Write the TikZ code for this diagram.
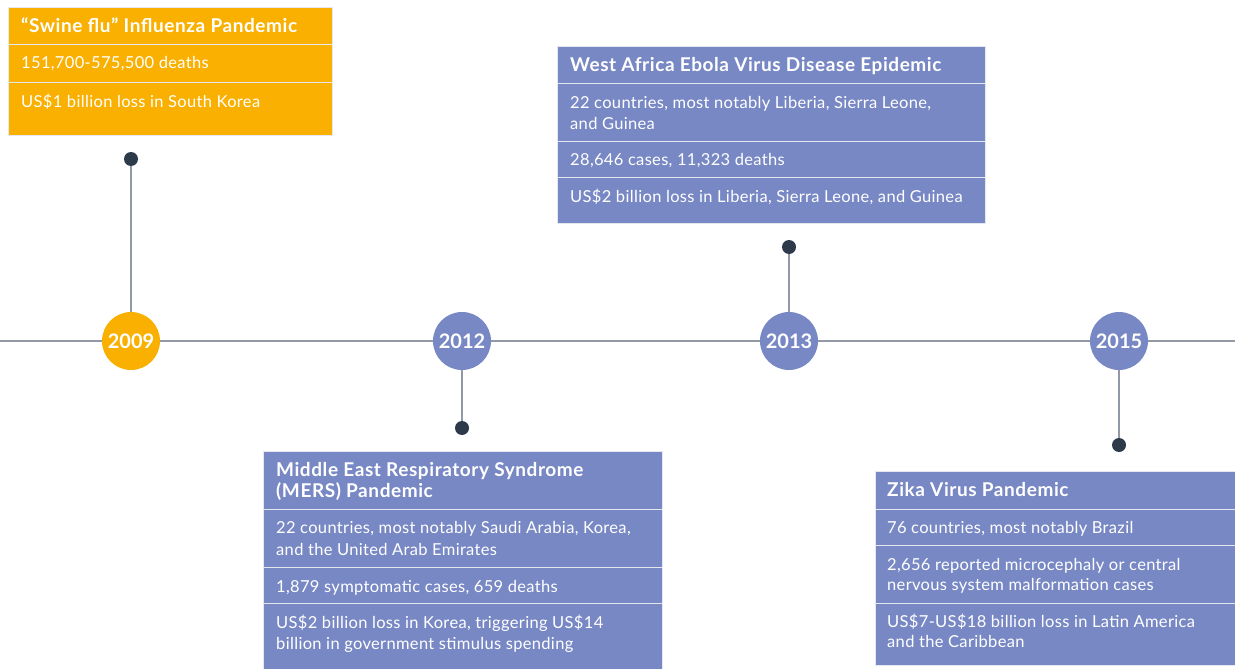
\documentclass[tikz,border=0pt]{standalone}
\usepackage{fontspec}
\setmainfont{Lato}
\newfontfamily\bodyfont{Lato}[LetterSpace=2]
\newfontfamily\titlefont{Lato}[LetterSpace=3]
\definecolor{orangec}{HTML}{F9B000}
\definecolor{bluec}{HTML}{7888C4}
\definecolor{dotc}{HTML}{2C3A4A}
\definecolor{linec}{HTML}{9298A6}
\definecolor{sepc}{HTML}{E6E8F1}
\tikzset{
  row/.style={anchor=north west, inner sep=0pt, draw=sepc, line width=1.3pt},
  orow/.style={row, fill=orangec},
  brow/.style={row, fill=bluec},
  title/.style={anchor=base west, inner sep=0pt, text=white, font=\titlefont\fontsize{19}{21}\selectfont\bfseries},
  body/.style={anchor=base west, inner sep=0pt, text=white, font=\bodyfont\fontsize{16.5}{21}\selectfont},
  year/.style={circle, minimum size=58pt, inner sep=0pt, text=white, font=\fontsize{20}{24}\selectfont\bfseries},
  pin/.style={circle, fill=dotc, minimum size=14pt, inner sep=0pt},
  conn/.style={draw=linec, line width=1.4pt}
}
\begin{document}
\begin{tikzpicture}[x=1pt,y=-1pt]
\useasboundingbox (0,0) rectangle (1235,669);
\clip (0,0) rectangle (1235,669);
% timeline
\coordinate (tl) at (0,341);
\coordinate (tr) at (1235,341);
\draw[conn] (tl) -- (tr);
% year circles
\node[year, fill=orangec] (y2009) at (131,341) {2009};
\node[year, fill=bluec] (y2012) at (462,341) {2012};
\node[year, fill=bluec] (y2013) at (789,341) {2013};
\node[year, fill=bluec] (y2015) at (1119,341) {2015};
% pins
\node[pin] (d2009) at (131,159) {};
\node[pin] (d2012) at (462,428) {};
\node[pin] (d2013) at (789,247) {};
\node[pin] (d2015) at (1119,445) {};
\draw[conn] (d2009) -- (y2009);
\draw[conn] (d2012) -- (y2012);
\draw[conn] (d2013) -- (y2013);
\draw[conn] (d2015) -- (y2015);
% Swine flu box
\node[orow, minimum width=324pt, minimum height=37pt] (s1) at (8,7) {};
\node[orow, minimum width=324pt, minimum height=38pt] (s2) at (8,44) {};
\node[orow, minimum width=324pt, minimum height=53pt] (s3) at (8,82) {};
\node[title] (s1t) at (21,33) {“Swine flu” Influenza Pandemic};
\node[body] (s2t) at (21,69) {151,700-575,500 deaths};
\node[body] (s3t) at (21,107) {US\$1 billion loss in South Korea};
% Ebola box
\node[brow, minimum width=428pt, minimum height=37pt] (e1) at (557,46) {};
\node[brow, minimum width=428pt, minimum height=58pt] (e2) at (557,83) {};
\node[brow, minimum width=428pt, minimum height=36pt] (e3) at (557,141) {};
\node[brow, minimum width=428pt, minimum height=46pt] (e4) at (557,177) {};
\node[title] (e1t) at (570,72) {West Africa Ebola Virus Disease Epidemic};
\node[body] (e2t) at (570,108) {22 countries, most notably Liberia, Sierra Leone,};
\node[body] (e2u) at (570,129) {and Guinea};
\node[body] (e3t) at (570,165) {28,646 cases, 11,323 deaths};
\node[body] (e4t) at (570,202) {US\$2 billion loss in Liberia, Sierra Leone, and Guinea};
% MERS box
\node[brow, minimum width=399pt, minimum height=58pt] (m1) at (263,451) {};
\node[brow, minimum width=399pt, minimum height=58pt] (m2) at (263,509) {};
\node[brow, minimum width=399pt, minimum height=36pt] (m3) at (263,567) {};
\node[brow, minimum width=399pt, minimum height=80pt] (m4) at (263,603) {};
\node[title] (m1t) at (276,476) {Middle East Respiratory Syndrome};
\node[title] (m1u) at (276,497) {(MERS) Pandemic};
\node[body] (m2t) at (276,533) {22 countries, most notably Saudi Arabia, Korea,};
\node[body] (m2u) at (276,555) {and the United Arab Emirates};
\node[body] (m3t) at (276,592) {1,879 symptomatic cases, 659 deaths};
\node[body] (m4t) at (276,628) {US\$2 billion loss in Korea, triggering US\$14};
\node[body] (m4u) at (276,649) {billion in government stimulus spending};
% Zika box
\node[brow, minimum width=370pt, minimum height=38pt] (z1) at (875,471) {};
\node[brow, minimum width=370pt, minimum height=36pt] (z2) at (875,509) {};
\node[brow, minimum width=370pt, minimum height=58pt] (z3) at (875,545) {};
\node[brow, minimum width=370pt, minimum height=62pt] (z4) at (875,603) {};
\node[title] (z1t) at (887,496) {Zika Virus Pandemic};
\node[body] (z2t) at (887,533) {76 countries, most notably Brazil};
\node[body] (z3t) at (887,570) {2,656 reported microcephaly or central};
\node[body] (z3u) at (887,590) {nervous system malformation cases};
\node[body] (z4t) at (887,627) {US\$7-US\$18 billion loss in Latin America};
\node[body] (z4u) at (887,647) {and the Caribbean};
\end{tikzpicture}
\end{document}
